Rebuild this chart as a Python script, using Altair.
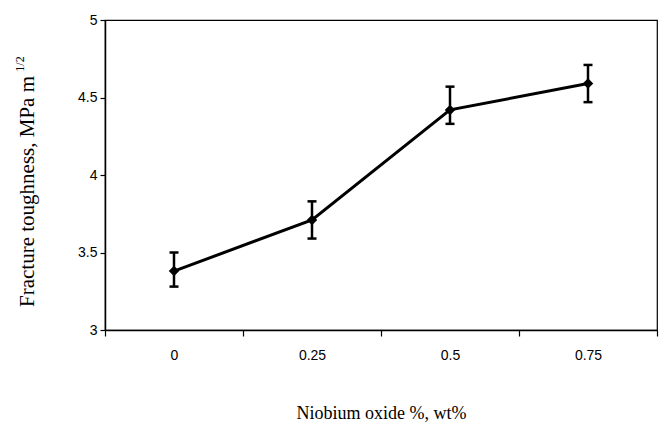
import altair as alt
import pandas as pd

# Data
niobium = [0, 0.25, 0.5, 0.75]
toughness = [3.38, 3.71, 4.42, 4.59]
err_low = [3.28, 3.59, 4.33, 4.47]
err_high = [3.50, 3.83, 4.57, 4.71]
x_tick_labels = ["0", "0.25", "0.5", "0.75", ""]
x_bounds = [-0.125, 0.125, 0.375, 0.625, 0.875]
y_ticks = [3, 3.5, 4, 4.5, 5]

df = pd.DataFrame({"x": niobium, "y": toughness, "lo": err_low, "hi": err_high})

xscale = alt.Scale(domain=[-0.125, 0.875], nice=False, zero=False)
yscale = alt.Scale(domain=[3, 5], nice=False, zero=False)

lab_font = "Liberation Sans"
ttl_font = "Liberation Serif"

label_expr = "[" + ",".join("'" + t + "'" for t in x_tick_labels) + "][indexof(" + \
    "[" + ",".join(str(v) for v in x_bounds) + "], datum.value)]"

xaxis = alt.Axis(values=x_bounds, labelExpr=label_expr, labelOffset=69, grid=False,
                 tickSize=6, tickWidth=1.2, domainWidth=1.5, domainColor="black", tickColor="black",
                 labelFont=lab_font, labelFontSize=14, labelColor="black", labelPadding=12,
                 labelFlush=False, labelOverlap=False,
                 title="Niobium oxide %, wt%", titleFont=ttl_font, titleFontSize=18,
                 titleFontWeight="normal", titleColor="black",
                 titleY=88, titleBaseline="alphabetic")

yaxis = alt.Axis(values=y_ticks, format="~g", grid=False, tickSize=5, tickWidth=1.2,
                 domainWidth=1.5, domainColor="black", tickColor="black",
                 labelFont=lab_font, labelFontSize=14, labelColor="black", labelPadding=3,
                 title="Fracture toughness, MPa m", titleFont=ttl_font, titleFontSize=21,
                 titleFontWeight="normal", titleColor="black", titleAngle=270,
                 titleX=-72, titleY=171, titleAlign="center", titleBaseline="alphabetic")

base = alt.Chart(df)

line = base.mark_line(color="black", strokeWidth=3).encode(
    x=alt.X("x:Q", scale=xscale, axis=xaxis, title="Niobium oxide %, wt%"),
    y=alt.Y("y:Q", scale=yscale, axis=yaxis, title="Fracture toughness, MPa m"),
)

points = base.mark_point(shape="diamond", filled=True, color="black", size=110, opacity=1).encode(
    x=alt.X("x:Q", scale=xscale),
    y=alt.Y("y:Q", scale=yscale),
)

rules = base.mark_rule(color="black", strokeWidth=2.5).encode(
    x=alt.X("x:Q", scale=xscale), y=alt.Y("lo:Q", scale=yscale), y2="hi:Q"
)
cap_lo = base.mark_tick(color="black", thickness=2.5, size=9, orient="horizontal", opacity=1).encode(
    x=alt.X("x:Q", scale=xscale), y=alt.Y("lo:Q", scale=yscale)
)
cap_hi = base.mark_tick(color="black", thickness=2.5, size=9, orient="horizontal", opacity=1).encode(
    x=alt.X("x:Q", scale=xscale), y=alt.Y("hi:Q", scale=yscale)
)

sup = alt.Chart(pd.DataFrame({"t": ["1/2"]})).mark_text(
    font=ttl_font, fontSize=12, angle=270, align="center", baseline="alphabetic", color="black"
).encode(text="t:N", x=alt.value(-81), y=alt.value(44))

chart = alt.layer(line, rules, cap_lo, cap_hi, points, sup).properties(
    width=552, height=310,
    autosize=alt.AutoSizeParams(type="none"),
    padding={"left": 97, "top": 12, "right": 4, "bottom": 92},
).configure_view(stroke="black", strokeWidth=1.2)

chart.save("out.html", embed_options={"renderer": "svg", "actions": False})
